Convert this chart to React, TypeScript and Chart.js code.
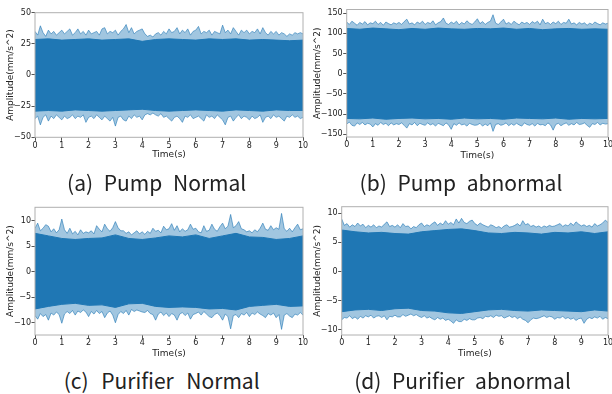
import React, { useEffect, useRef } from 'react';
import { Chart, registerables } from 'chart.js';

Chart.register(...registerables);

// ---------- data ----------
const timeTicks = [0, 1, 2, 3, 4, 5, 6, 7, 8, 9, 10];
const PEAK_STEP = 0.1; // s between envelope samples
const CORE_STEP = 0.5; // s between dense-core samples

// (a) Pump Normal
const aYTicks = [-50, -25, 0, 25, 50];
const aPeakHi = [35, 32, 39.5, 34, 31, 36, 33, 35, 32, 34, 36, 33, 35, 37, 32, 34, 37, 33, 35, 32, 36, 33, 34, 35, 32, 37, 38, 33, 35, 34, 36, 32, 35, 37, 40.5, 34, 38, 33, 35, 36, 37, 33, 31, 32, 30.5, 33, 34, 32, 35, 33, 37, 34, 35, 38, 33, 36, 34, 37, 32, 35, 36, 39, 33, 35, 34, 36, 32, 35, 34, 33, 40, 34, 36, 33, 38, 35, 32, 36, 34, 36, 33, 35, 34, 37, 33, 38, 34, 32, 35, 33, 35, 32, 34, 33, 31, 33, 32, 34, 33, 34, 33];
const aPeakLo = [-35, -33, -40, -34, -32, -37, -33, -35, -32, -34, -36, -33, -35, -34, -32, -35, -33, -34, -32, -38, -34, -33, -35, -32, -34, -36, -33, -35, -37, -34, -41, -34, -33, -36, -37, -33, -35, -32, -34, -33, -36, -32, -31, -32, -30.5, -32, -33, -31, -34, -33, -35, -37, -34, -33, -35, -38, -33, -34, -32, -35, -34, -33, -35, -37, -32, -34, -33, -35, -32, -34, -36, -40, -34, -33, -37, -34, -32, -35, -33, -34, -36, -33, -35, -34, -32, -38, -34, -33, -35, -32, -34, -33, -35, -37, -33, -34, -32, -34, -33, -35, -34];
const aCoreHi = [28.5, 29, 28, 28.5, 29, 28, 28.5, 29, 27, 28.5, 29, 28.5, 28, 29, 28.5, 29, 28, 28.5, 28, 27.5, 28];
const aCoreLo = [-29, -28.5, -29, -28, -28.5, -29, -28.5, -28, -27.5, -28.5, -29, -28.5, -28, -28.5, -29, -28, -28.5, -29, -28, -28.5, -28.5];

// (b) Pump abnormal
const bYTicks = [-150, -100, -50, 0, 50, 100, 150];
const bPeakHi = [128, 122, 130, 125, 120, 127, 123, 129, 121, 126, 124, 130, 122, 127, 120, 128, 124, 121, 126, 123, 127, 122, 129, 135, 123, 126, 121, 128, 124, 130, 122, 127, 124, 131, 121, 126, 129, 138, 125, 122, 128, 124, 130, 121, 127, 123, 131, 125, 122, 128, 136, 124, 129, 122, 127, 130, 146, 125, 122, 128, 135, 123, 127, 122, 130, 125, 121, 128, 124, 127, 122, 129, 125, 130, 121, 135, 124, 127, 122, 128, 124, 130, 122, 127, 125, 135, 123, 126, 121, 127, 123, 126, 120, 125, 122, 128, 124, 121, 126, 123, 125];
const bPeakLo = [-125, -120, -128, -130, -122, -126, -121, -127, -123, -125, -132, -124, -128, -121, -126, -123, -129, -122, -127, -124, -126, -122, -128, -135, -124, -127, -121, -129, -123, -126, -128, -122, -127, -124, -130, -123, -126, -129, -122, -127, -138, -124, -128, -122, -127, -125, -130, -123, -126, -128, -127, -123, -130, -125, -129, -122, -143, -126, -124, -128, -126, -122, -129, -124, -128, -123, -127, -130, -122, -126, -128, -124, -130, -123, -127, -126, -129, -122, -127, -140, -126, -123, -129, -125, -122, -128, -124, -127, -121, -126, -125, -122, -128, -133, -124, -126, -121, -127, -123, -125, -124];
const bCoreHi = [112, 110, 113, 111, 109, 112, 110, 113, 111, 110, 112, 111, 113, 110, 112, 109, 111, 112, 110, 111, 110];
const bCoreLo = [-111, -112, -110, -113, -111, -110, -112, -111, -113, -110, -112, -111, -113, -110, -111, -112, -110, -113, -111, -112, -111];

// (c) Purifier Normal
const cYTicks = [-10, -5, 0, 5, 10];
const cPeakHi = [8.5, 9.5, 8.0, 8.5, 9.2, 8.9, 7.8, 8.4, 7.6, 8.2, 10.3, 8.2, 7.5, 8.5, 7.4, 7.9, 7.2, 8.2, 7.5, 7.8, 7.6, 8.0, 7.4, 9.0, 8.3, 7.8, 9.3, 8.4, 7.9, 8.6, 9.8, 8.6, 8.0, 8.0, 7.5, 7.8, 7.2, 7.6, 8.0, 7.4, 7.8, 7.3, 7.9, 7.5, 8.5, 7.9, 8.1, 7.6, 8.9, 8.2, 8.4, 9.4, 8.1, 9.0, 7.8, 8.4, 7.9, 8.2, 9.3, 8.3, 8.5, 7.8, 7.6, 9.0, 7.9, 8.1, 9.3, 8.3, 7.9, 8.8, 9.5, 8.4, 8.9, 11.2, 8.6, 9.0, 9.8, 8.4, 8.2, 7.8, 8.0, 7.6, 8.2, 7.8, 8.5, 9.5, 8.3, 8.1, 9.0, 8.2, 8.6, 8.3, 11.4, 8.4, 7.9, 8.5, 7.8, 8.6, 9.3, 8.2, 8.4];
const cPeakLo = [-8.6, -9.3, -8.2, -8.8, -8.4, -9.5, -8.1, -8.5, -7.9, -8.4, -10.1, -8.3, -7.8, -8.2, -7.6, -8.5, -7.7, -8.0, -7.5, -7.9, -8.8, -7.8, -8.3, -7.6, -8.2, -7.8, -9.0, -8.1, -7.7, -8.5, -10.0, -8.4, -7.8, -8.2, -7.6, -8.5, -7.4, -7.8, -7.5, -7.7, -7.9, -8.0, -7.6, -8.2, -8.4, -9.5, -8.3, -7.9, -8.6, -8.1, -8.8, -8.2, -8.5, -9.5, -8.3, -8.0, -8.6, -8.1, -9.3, -8.4, -8.2, -7.9, -8.5, -7.8, -8.3, -8.8, -9.0, -8.4, -8.1, -8.6, -9.5, -8.3, -8.8, -11.2, -8.6, -8.4, -9.0, -8.2, -8.5, -8.0, -8.8, -8.1, -8.4, -7.9, -8.3, -8.6, -9.0, -8.2, -8.5, -8.1, -9.0, -8.4, -11.3, -8.5, -8.2, -8.7, -9.0, -8.3, -8.5, -8.0, -8.5];
const cCoreHi = [7.5, 7.0, 6.5, 6.3, 6.5, 6.6, 7.2, 6.5, 6.3, 6.6, 7.0, 6.8, 7.2, 6.5, 7.0, 7.5, 6.8, 6.7, 6.3, 6.5, 7.0];
const cCoreLo = [-7.3, -6.8, -6.4, -6.2, -6.6, -6.5, -7.0, -6.3, -6.2, -6.8, -7.0, -6.9, -7.0, -7.3, -7.2, -7.5, -6.8, -6.6, -6.4, -6.8, -6.7];

// (d) Purifier abnormal
const dYTicks = [-10, -5, 0, 5, 10];
const dPeakHi = [9.0, 7.9, 8.2, 7.6, 8.0, 7.7, 8.3, 7.8, 8.1, 7.5, 7.9, 7.6, 8.0, 7.5, 7.8, 7.6, 8.1, 8.5, 7.7, 7.9, 7.6, 8.0, 7.5, 8.2, 7.7, 7.8, 7.3, 7.7, 7.5, 8.0, 8.3, 7.7, 8.0, 7.8, 8.2, 8.5, 7.9, 8.3, 8.0, 8.7, 8.1, 8.4, 8.0, 9.0, 8.3, 9.1, 8.4, 8.2, 8.6, 8.8, 8.2, 7.9, 8.3, 8.0, 7.8, 7.6, 8.0, 7.8, 7.5, 7.7, 7.4, 7.8, 8.0, 7.6, 7.7, 7.9, 8.2, 7.8, 8.7, 8.0, 8.2, 7.7, 7.9, 7.6, 7.8, 7.5, 7.8, 7.6, 7.9, 7.7, 7.8, 8.0, 8.2, 7.7, 8.0, 7.8, 8.3, 7.9, 8.5, 8.1, 7.8, 8.0, 7.7, 7.9, 7.6, 8.2, 7.8, 8.0, 8.3, 8.8, 8.4];
const dPeakLo = [-8.3, -7.9, -8.0, -7.6, -8.1, -7.8, -8.2, -7.7, -8.0, -7.6, -7.8, -7.5, -8.0, -7.7, -7.6, -7.9, -7.6, -8.3, -7.7, -7.8, -7.5, -7.8, -7.8, -7.4, -7.7, -7.5, -7.3, -7.6, -7.4, -7.7, -7.9, -7.6, -8.0, -7.8, -8.1, -8.3, -7.9, -8.2, -8.0, -8.4, -8.2, -8.5, -8.9, -8.3, -8.6, -8.6, -8.2, -8.4, -8.1, -8.3, -8.3, -8.0, -7.9, -8.1, -7.7, -7.8, -7.6, -7.9, -7.5, -7.7, -7.6, -8.0, -7.8, -7.6, -7.9, -7.7, -8.1, -7.8, -8.2, -8.4, -8.8, -8.3, -8.0, -8.1, -8.0, -7.8, -7.6, -7.9, -7.7, -7.8, -8.2, -7.9, -8.0, -7.7, -8.1, -7.9, -8.2, -8.0, -8.4, -8.1, -8.0, -8.9, -8.2, -7.9, -8.1, -7.8, -8.0, -7.7, -8.2, -7.9, -8.1];
const dCoreHi = [7.1, 6.8, 6.6, 6.7, 6.5, 6.4, 6.8, 7.0, 7.2, 7.3, 7.0, 6.6, 6.5, 6.7, 6.6, 6.4, 6.7, 6.6, 6.8, 6.5, 6.8];
const dCoreLo = [-6.9, -6.6, -6.5, -6.7, -6.4, -6.3, -6.7, -6.8, -7.1, -7.2, -6.9, -6.6, -6.5, -6.7, -6.8, -6.6, -6.7, -6.8, -6.9, -6.6, -6.8];

const captions = ['(a) Pump Normal', '(b) Pump abnormal', '(c) Purifier Normal', '(d) Purifier abnormal'];
const yTitle = 'Amplitude(mm/s^2)';
const xTitle = 'Time(s)';

// ---------- styles ----------
const DARK = '#1f77b4';
const LIGHT_FILL = 'rgba(31,119,180,0.42)';
const LIGHT_LINE = 'rgba(31,119,180,0.6)';
const TEXT = '#222';
const FONT = 'DejaVu Sans';

const fmt = (v: number) => (v < 0 ? '\u2212' + Math.abs(v) : String(v));

const framePlugin = {
  id: 'frame',
  afterDatasetsDraw(chart: any) {
    const { ctx, chartArea: a } = chart;
    ctx.save();
    ctx.strokeStyle = '#b0b0b0';
    ctx.lineWidth = 1;
    ctx.strokeRect(a.left, a.top, a.right - a.left, a.bottom - a.top);
    ctx.restore();
  },
};

type PanelSpec = {
  left: number; top: number; width: number; height: number;
  padTop: number; padRight: number; yWidth: number; xHeight: number;
  yTitlePad: number; xTitlePad: number;
  yMin: number; yMax: number; yTicks: number[];
  peakHi: number[]; peakLo: number[]; coreHi: number[]; coreLo: number[];
};

const toPts = (arr: number[], step: number) => arr.map((v, i) => ({ x: i * step, y: v }));

function buildConfig(p: PanelSpec): any {
  const lineBase = { pointRadius: 0, tension: 0 };
  return {
    type: 'line',
    data: {
      datasets: [
        { ...lineBase, data: toPts(p.coreHi, CORE_STEP), borderColor: DARK, backgroundColor: DARK, borderWidth: 1, fill: 1, order: 0 },
        { ...lineBase, data: toPts(p.coreLo, CORE_STEP), borderColor: DARK, backgroundColor: DARK, borderWidth: 1, fill: false, order: 0 },
        { ...lineBase, data: toPts(p.peakHi, PEAK_STEP), borderColor: LIGHT_LINE, backgroundColor: LIGHT_FILL, borderWidth: 1, fill: 3, order: 1 },
        { ...lineBase, data: toPts(p.peakLo, PEAK_STEP), borderColor: LIGHT_LINE, backgroundColor: LIGHT_FILL, borderWidth: 1, fill: false, order: 1 },
      ],
    },
    options: {
      animation: false,
      responsive: false,
      maintainAspectRatio: false,
      events: [],
      layout: { padding: { top: p.padTop, right: p.padRight, left: 0, bottom: 0 } },
      plugins: { legend: { display: false }, tooltip: { enabled: false } },
      scales: {
        x: {
          type: 'linear',
          min: 0,
          max: 10,
          afterBuildTicks: (s: any) => { s.ticks = timeTicks.map((v) => ({ value: v })); },
          afterFit: (s: any) => { s.height = p.xHeight; },
          ticks: { autoSkip: false, maxRotation: 0, padding: 0, color: TEXT, font: { family: FONT, size: 8 }, callback: (v: any) => fmt(v) },
          grid: { drawOnChartArea: false, drawTicks: true, tickLength: 3.5, color: '#555' },
          border: { display: false },
          title: { display: true, text: xTitle, color: TEXT, font: { family: FONT, size: 9 }, padding: { top: 0, bottom: p.xTitlePad } },
        },
        y: {
          type: 'linear',
          min: p.yMin,
          max: p.yMax,
          afterBuildTicks: (s: any) => { s.ticks = p.yTicks.map((v) => ({ value: v })); },
          afterFit: (s: any) => { s.width = p.yWidth; },
          ticks: { autoSkip: false, padding: 0.5, color: TEXT, font: { family: FONT, size: 8 }, callback: (v: any) => fmt(v) },
          grid: { drawOnChartArea: false, drawTicks: true, tickLength: 3.5, color: '#555' },
          border: { display: false },
          title: { display: true, text: yTitle, color: TEXT, font: { family: FONT, size: 9 }, padding: { top: p.yTitlePad, bottom: 0 } },
        },
      },
    },
    plugins: [framePlugin],
  };
}

const panels: PanelSpec[] = [
  { left: 0, top: 0, width: 310, height: 168, padTop: 12.7, padRight: 7, yWidth: 35, xHeight: 30.7, yTitlePad: 5, xTitlePad: 7.5,
    yMin: -50, yMax: 50, yTicks: aYTicks, peakHi: aPeakHi, peakLo: aPeakLo, coreHi: aCoreHi, coreLo: aCoreLo },
  { left: 306, top: 0, width: 320, height: 168, padTop: 9.5, padRight: 18, yWidth: 40.7, xHeight: 31, yTitlePad: 6.3, xTitlePad: 7,
    yMin: -157, yMax: 159, yTicks: bYTicks, peakHi: bPeakHi, peakLo: bPeakLo, coreHi: bCoreHi, coreLo: bCoreLo },
  { left: 0, top: 195, width: 310, height: 170, padTop: 12.3, padRight: 7, yWidth: 35, xHeight: 30, yTitlePad: 5, xTitlePad: 6.3,
    yMin: -12.4, yMax: 12.6, yTicks: cYTicks, peakHi: cPeakHi, peakLo: cPeakLo, coreHi: cCoreHi, coreLo: cCoreLo },
  { left: 306, top: 195, width: 320, height: 170, padTop: 11.7, padRight: 18, yWidth: 35.7, xHeight: 30, yTitlePad: 6.3, xTitlePad: 6.3,
    yMin: -10.9, yMax: 11.1, yTicks: dYTicks, peakHi: dPeakHi, peakLo: dPeakLo, coreHi: dCoreHi, coreLo: dCoreLo },
];

const captionPos = [
  { cx: 156.7, cy: 181.5, ws: 6 },
  { cx: 461, cy: 181.5, ws: 6 },
  { cx: 161.7, cy: 380, ws: 8 },
  { cx: 462.5, cy: 380, ws: 6 },
];

function Panel({ spec }: { spec: PanelSpec }) {
  const ref = useRef<HTMLCanvasElement | null>(null);
  useEffect(() => {
    if (!ref.current) return;
    const chart = new Chart(ref.current, buildConfig(spec));
    return () => chart.destroy();
  }, [spec]);
  return (
    <canvas
      ref={ref}
      width={spec.width}
      height={spec.height}
      style={{ position: 'absolute', left: spec.left, top: spec.top, width: spec.width, height: spec.height }}
    />
  );
}

export default function App() {
  return (
    <div style={{ position: 'fixed', left: 0, top: 0, width: 612, height: 394, overflow: 'hidden', background: '#fff' }}>
      {panels.map((p, i) => <Panel key={i} spec={p} />)}
      {captions.map((c, i) => (
        <div
          key={'c' + i}
          style={{
            position: 'absolute',
            left: captionPos[i].cx - 150,
            top: captionPos[i].cy - 12,
            width: 300,
            height: 24,
            lineHeight: '24px',
            textAlign: 'center',
            fontFamily: '"Noto Sans CJK KR", "Noto Sans", sans-serif',
            fontSize: 21,
            wordSpacing: captionPos[i].ws,
            color: TEXT,
            whiteSpace: 'pre',
          }}
        >
          {c}
        </div>
      ))}
    </div>
  );
}
